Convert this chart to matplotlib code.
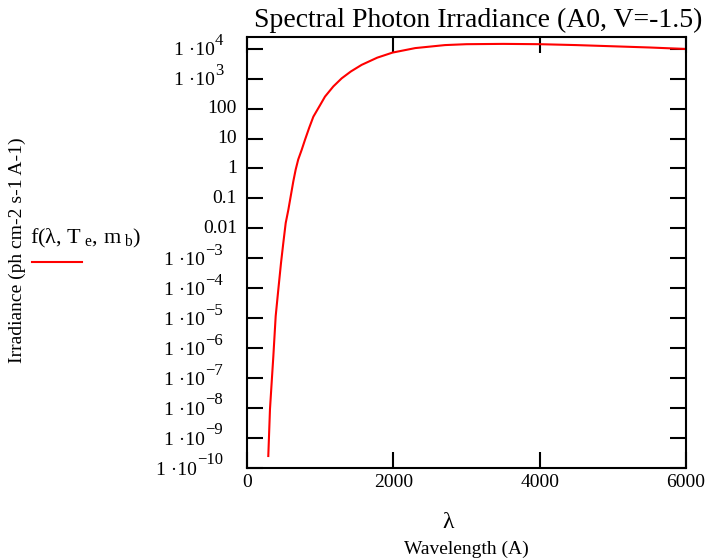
import numpy as np
import matplotlib.pyplot as plt
from matplotlib import transforms

plt.rcParams['font.family'] = 'Liberation Serif'
plt.rcParams['mathtext.fontset'] = 'custom'
plt.rcParams['mathtext.rm'] = 'Liberation Serif'
plt.rcParams['mathtext.it'] = 'Liberation Serif'

# wavelength (A) and log10 of photon irradiance
wavelength = [291, 314, 337, 360, 392, 428, 465, 496, 529, 565, 633, 665, 700,
              747, 793, 850, 907, 1000, 1066, 1180, 1294, 1420, 1567, 1780,
              1990, 2300, 2706, 3000, 3500, 4000, 4500, 5000, 5500, 6000]
log_irr = [-9.6, -8.04, -7.15, -6.27, -4.93, -4.04, -3.15, -2.49, -1.82, -1.38,
           -0.43, -0.04, 0.3, 0.62, 0.96, 1.36, 1.73, 2.12, 2.40, 2.74, 3.01,
           3.24, 3.46, 3.70, 3.87, 4.02, 4.12, 4.15, 4.16, 4.15, 4.12, 4.08,
           4.04, 3.99]

ytick_vals = [1e4, 1e3, 100, 10, 1, 0.1, 0.01, 1e-3, 1e-4, 1e-5, 1e-6, 1e-7,
              1e-8, 1e-9, 1e-10]
# (mantissa text, exponent text) -- exponent None means plain number
ytick_labels = [('1 ·10', '4'), ('1 ·10', '3'), ('100', None), ('10', None),
                ('1', None), ('0.1', None), ('0.01', None),
                ('1 ·10', '\u22123'), ('1 ·10', '\u22124'), ('1 ·10', '\u22125'),
                ('1 ·10', '\u22126'), ('1 ·10', '\u22127'), ('1 ·10', '\u22128'),
                ('1 ·10', '\u22129'), ('1 ·10', '\u221210')]
xtick_vals = [0, 2000, 4000, 6000]

W, H = 713, 560
L, R, T, B = 247, 686, 37, 468
fig = plt.figure(figsize=(W / 100, H / 100), dpi=100)
ax = fig.add_axes([L / W, 1 - B / H, (R - L) / W, (B - T) / H])

irr = 10 ** np.array(log_irr)
ax.semilogy(wavelength, irr, color='red', lw=1.5)

ax.set_xlim(0, 6000)
ax.set_ylim(1e-10, 10 ** 4.39)
ax.set_xticks(xtick_vals)
ax.set_xticklabels([str(v) for v in xtick_vals], fontsize=14)
ax.set_yticks(ytick_vals)
ax.set_yticklabels([])
ax.minorticks_off()
ax.tick_params(direction='in', length=11.5, width=1.5, top=True, right=True)
ax.tick_params(axis='x', pad=4)
for s in ax.spines.values():
    s.set_linewidth(1.5)

# Mathcad style y tick labels
blend = ax.get_yaxis_transform()
renderer = fig.canvas.get_renderer()
def xa(px):
    return (px - L) / (R - L)

for v, (base, ex) in zip(ytick_vals, ytick_labels):
    if ex is None:
        ax.text(xa(237), v, base, transform=blend, ha='right', va='center',
                fontsize=14)
        continue
    up = transforms.offset_copy(blend, fig=fig, x=0, y=5.5, units='points')
    down = transforms.offset_copy(blend, fig=fig, x=0, y=-1.5, units='points')
    e = ax.text(xa(223), v, ex, transform=up, ha='right', va='center',
                fontsize=12)
    x0 = e.get_window_extent(renderer).x0
    xb = ax.transAxes.inverted().transform((x0, 0))[0]
    ax.text(xb, v, base, transform=down, ha='right', va='center', fontsize=14)

fig.text(478 / W, 1 - 20 / H, 'Spectral Photon Irradiance (A0, V=-1.5)',
         ha='center', va='center', fontsize=20)
fig.text(448 / W, 1 - 523 / H, 'λ', ha='center', va='center', fontsize=17)
fig.text(466 / W, 1 - 549 / H, 'Wavelength (A)', ha='center', va='center',
         fontsize=14)
fig.text(17 / W, 1 - 250 / H, 'Irradiance (ph cm-2 s-1 A-1)', rotation=90,
         ha='center', va='center', fontsize=14)

# legend entry
fig.text(30 / W, 1 - 238 / H, 'f(λ, T$_{\\rm\\ e}$, m$_{\\rm\\ b}$)',
         ha='left', va='center', fontsize=16)
fig.add_artist(plt.Line2D([32 / W, 82 / W], [1 - 262 / H, 1 - 262 / H],
                          color='red', lw=1.5))

fig.savefig('out.png', dpi=100)
